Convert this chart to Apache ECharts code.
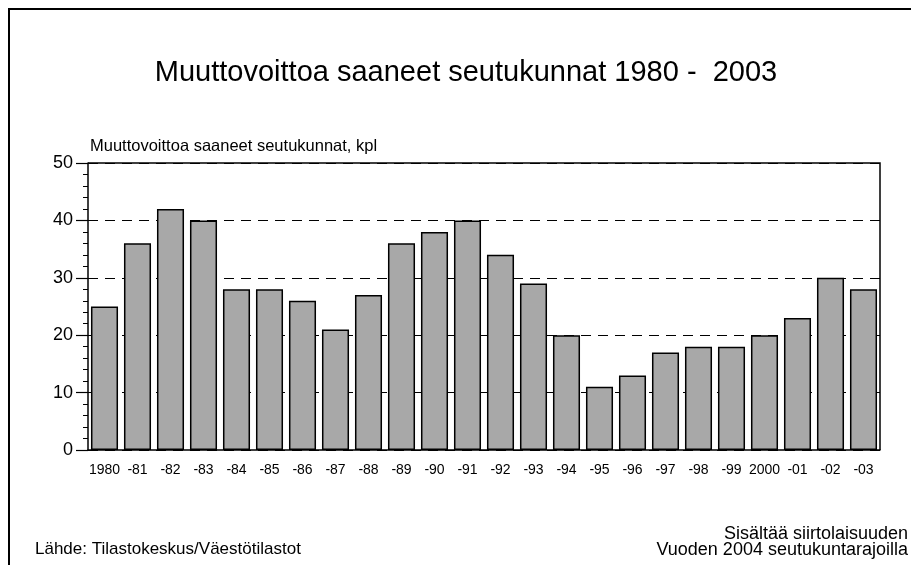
<!DOCTYPE html>
<html>
<head>
<meta charset="utf-8">
<script src="https://cdn.jsdelivr.net/npm/echarts@6/dist/echarts.min.js"></script>
<style>
  html, body { margin: 0; padding: 0; background: #fff; }
  #chart { width: 911px; height: 565px; }
</style>
</head>
<body>
<div id="chart"></div>
<script>
// vuodet ja arvot luettu kuvasta
const years = ["1980", "-81", "-82", "-83", "-84", "-85", "-86", "-87", "-88", "-89", "-90", "-91",
  "-92", "-93", "-94", "-95", "-96", "-97", "-98", "-99", "2000", "-01", "-02", "-03"];
const counts = [25, 36, 42, 40, 28, 28, 26, 21, 27, 36, 38, 40,
  34, 29, 20, 11, 13, 17, 18, 18, 20, 23, 30, 28];

const font = "'Liberation Sans', Arial, sans-serif";

const chart = echarts.init(document.getElementById("chart"));

const option = {
  animation: false,
  backgroundColor: "#fff",
  textStyle: { fontFamily: font, color: "#000" },
  graphic: [
    // ulkokehys (jatkuu kuvan reunojen yli)
    {
      type: "rect",
      shape: { x: 9, y: 9, width: 940, height: 600 },
      style: { fill: "none", stroke: "#000", lineWidth: 2 },
      silent: true
    },
    // piirtoalueen kehys ylä- ja oikealla
    {
      type: "polyline",
      shape: { points: [[88, 163], [880, 163], [880, 450]] },
      style: { fill: "none", stroke: "#000", lineWidth: 1.5 },
      silent: true
    },
    {
      type: "text",
      style: { x: 90, y: 146, text: "Muuttovoittoa saaneet seutukunnat, kpl", font: "16.5px " + font, fill: "#000", verticalAlign: "middle" }
    },
    {
      type: "text",
      style: { x: 35, y: 549, text: "Lähde: Tilastokeskus/Väestötilastot", font: "17px " + font, fill: "#000", verticalAlign: "middle" }
    },
    {
      type: "text",
      style: { x: 908, y: 534, text: "Sisältää siirtolaisuuden", font: "18px " + font, fill: "#000", align: "right", verticalAlign: "middle" }
    },
    {
      type: "text",
      style: { x: 908, y: 550, text: "Vuoden 2004 seutukuntarajoilla", font: "18px " + font, fill: "#000", align: "right", verticalAlign: "middle" }
    }
  ],
  title: {
    text: "Muuttovoittoa saaneet seutukunnat 1980 -  2003",
    left: 461, top: 53, textAlign: "center",
    textStyle: { fontFamily: font, fontSize: 29, fontWeight: "normal", color: "#000" }
  },
  grid: { left: 88, right: 31, top: 163, bottom: 115 },
  xAxis: {
    type: "category",
    data: years,
    axisLine: { lineStyle: { color: "#000", width: 1.5 } },
    axisTick: { show: false },
    axisLabel: { color: "#000", fontSize: 14, fontFamily: font, margin: 13, interval: 0 }
  },
  yAxis: {
    type: "value",
    min: 0, max: 50, interval: 10,
    axisLine: { show: true, lineStyle: { color: "#000", width: 1.5 } },
    axisTick: { show: true, length: 12, lineStyle: { color: "#000", width: 1.2 } },
    minorTick: { show: true, splitNumber: 5, length: 5, lineStyle: { color: "#000", width: 1 } },
    axisLabel: { color: "#000", fontSize: 18, fontFamily: font, margin: 15 },
    splitLine: {
      show: true,
      lineStyle: { color: "#000", type: [10, 7], width: 1.2 }
    }
  },
  series: [{
    type: "bar",
    data: counts,
    barCategoryGap: "18%",
    itemStyle: {
      color: "#a8a8a8",
      borderColor: "#000",
      borderWidth: 1.5
    }
  }]
};

chart.setOption(option);
</script>
</body>
</html>
